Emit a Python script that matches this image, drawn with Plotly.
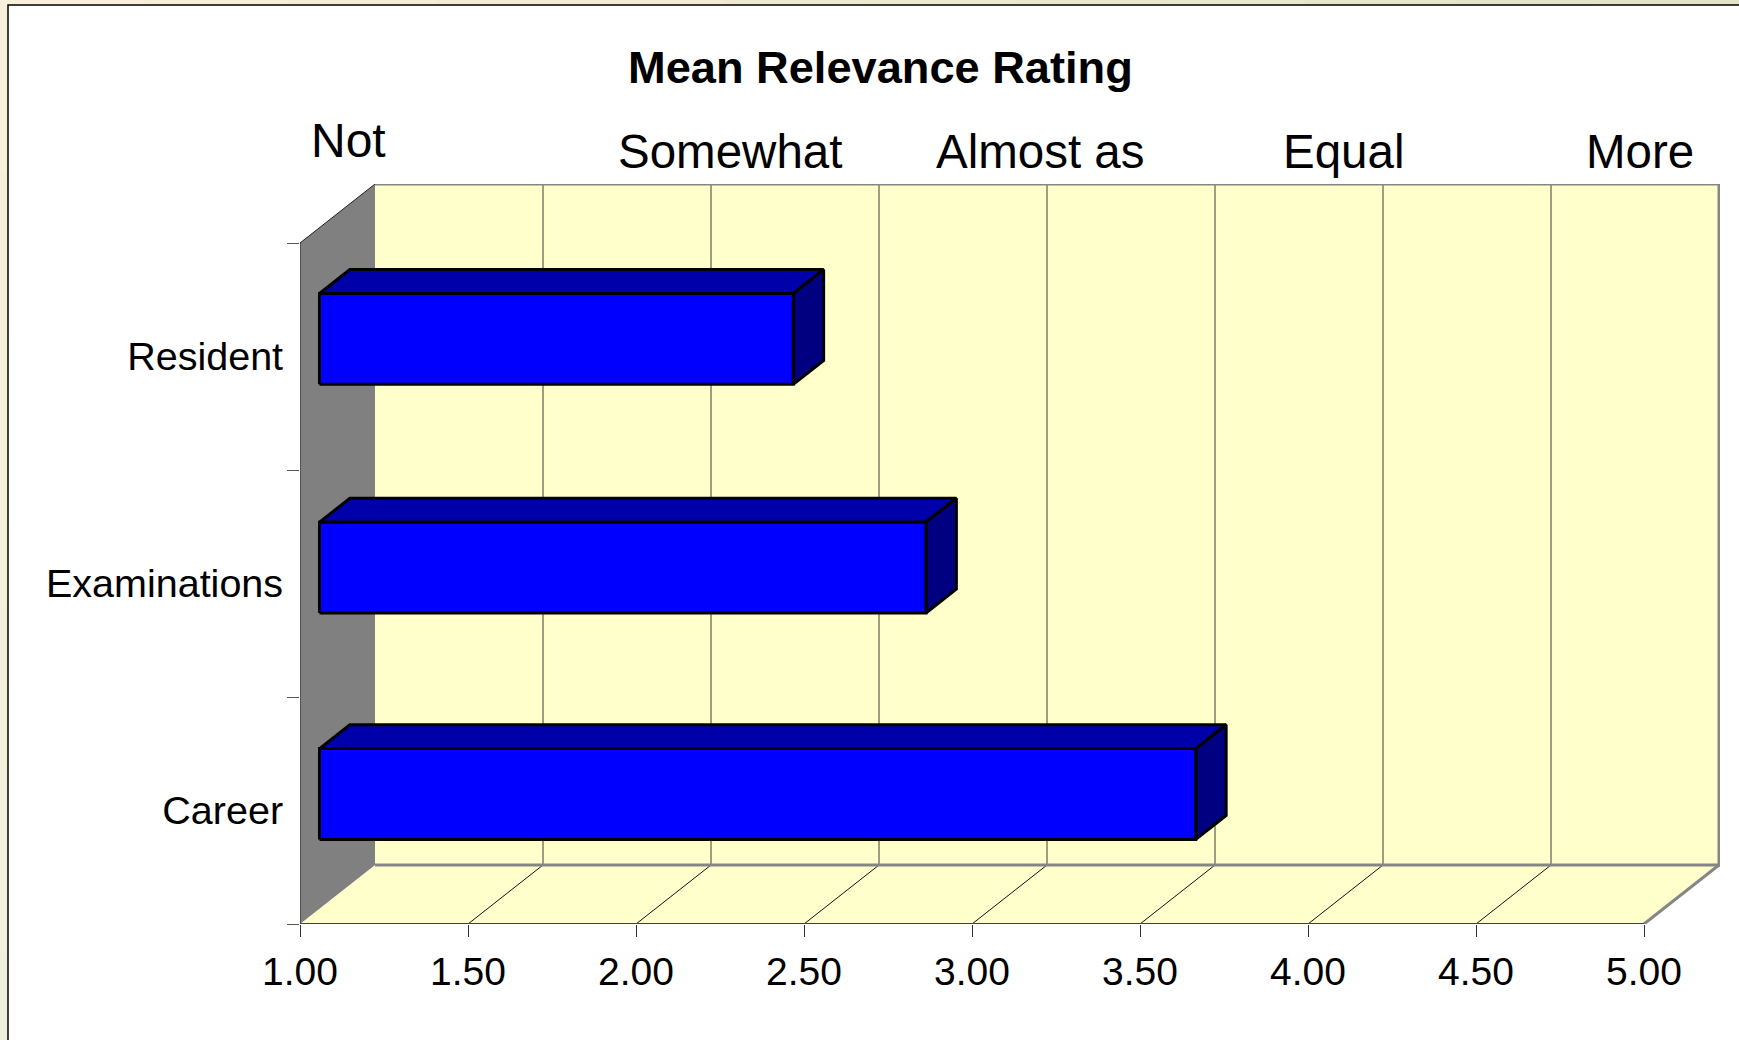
import plotly.graph_objects as go

categories = ["Career", "Examinations", "Resident"]
mean_rating = [3.608, 2.805, 2.41]
x_ticks = [1.0, 1.5, 2.0, 2.5, 3.0, 3.5, 4.0, 4.5, 5.0]
scale_labels = ["Not", "Somewhat", "Almost as", "Equal", "More"]
title_text = "Mean Relevance Rating"

W, H = 1739, 1040
PX_X = 336.0   # px per rating unit
PX_Y = 227.0   # px per category unit
LEFT, RIGHT, BOTTOM, TOP = 300, 1720, 924, 184
X_MIN = 1.0
X_MAX = X_MIN + (RIGHT - LEFT) / PX_X
Y_MAX = (BOTTOM - TOP) / PX_Y
DX = 75 / PX_X  # full oblique depth in axis units
DY = 59 / PX_Y
N = len(categories)
XFMT = "%.2f"


def proj(value, pos, depth):
    return value + depth * DX, pos + depth * DY


def fx(px):
    return px / W


def fy(py):
    return 1 - py / H


fig = go.Figure()


def poly(points, fill=None, line=None, width=1):
    xs, ys = zip(*points)
    fig.add_trace(go.Scatter(
        x=list(xs), y=list(ys), mode="lines", showlegend=False, hoverinfo="skip",
        fill="toself" if fill else None, fillcolor=fill, cliponaxis=False,
        line=dict(color=line or "rgba(0,0,0,0)", width=width, simplify=False),
    ))


WALL = "#FFFFCC"
FRAME = "#868686"
# back wall, floor and side wall
poly([proj(1, 0, 1), proj(1, N, 1), proj(5, N, 1), proj(5, 0, 1), proj(1, 0, 1)], fill=WALL)
poly([proj(1, 0, 0), proj(5, 0, 0), proj(5, 0, 1), proj(1, 0, 1), proj(1, 0, 0)], fill=WALL)
poly([proj(1, 0, 0), proj(1, N, 0), proj(1, N, 1), proj(1, 0, 1), proj(1, 0, 0)], fill="#808080")
# gridlines
for t in x_ticks[1:-1]:
    poly([proj(t, 0, 1), proj(t, N, 1)], line="#3C3C34", width=1)
    poly([proj(t, 0, 0), proj(t, 0, 1)], line="#111111", width=1)
# frame
poly([proj(1, N, 1), proj(5, N, 1), proj(5, 0, 1), proj(1, 0, 1)], line=FRAME, width=3)
poly([proj(5, 0, 0), proj(5, 0, 1)], line=FRAME, width=3)
poly([proj(1, 0, 0), proj(1, N, 0), proj(1, N, 1)], line="#222222", width=1)
poly([proj(1, 0, 0), proj(5, 0, 0)], line="#404040", width=2)

# bars
D0, D1 = 0.26, 0.665
BAR_H = 0.4
BAR_CENTRE = [0.505, 1.5025, 2.51]
for c, v in zip(BAR_CENTRE, mean_rating):
    lo, hi = c - BAR_H / 2, c + BAR_H / 2
    poly([proj(1, hi, D0), proj(v, hi, D0), proj(v, hi, D1), proj(1, hi, D1), proj(1, hi, D0)],
         fill="#0000AA", line="black", width=3)
    poly([proj(v, lo, D0), proj(v, hi, D0), proj(v, hi, D1), proj(v, lo, D1), proj(v, lo, D0)],
         fill="#000080", line="black", width=3)
    poly([proj(1, lo, D0), proj(v, lo, D0), proj(v, hi, D0), proj(1, hi, D0), proj(1, lo, D0)],
         fill="#0000FF", line="black", width=3)

FONT = "Liberation Sans"
shapes = []
# cream surround drawn as short steps from warm (top-left) to olive (right / bottom)
c0, c1, c2 = (248, 240, 218), (227, 227, 197), (239, 240, 220)
STEPS = 12
for k in range(STEPS):
    t = k / (STEPS - 1)
    col = "rgb(%d,%d,%d)" % tuple(round(a + (b - a) * t) for a, b in zip(c0, c1))
    shapes.append(dict(type="rect", xref="paper", yref="paper", layer="below",
                       x0=k / STEPS, x1=(k + 1) / STEPS, y0=0.99, y1=1, fillcolor=col, line_width=0))
    col = "rgb(%d,%d,%d)" % tuple(round(a + (b - a) * t) for a, b in zip(c0, c2))
    shapes.append(dict(type="rect", xref="paper", yref="paper", layer="below",
                       x0=0, x1=0.006, y0=1 - (k + 1) / STEPS, y1=1 - k / STEPS, fillcolor=col, line_width=0))
shapes.append(dict(type="rect", xref="paper", yref="paper", layer="below",
                   x0=fx(8), x1=fx(W + 10), y0=fy(H + 10), y1=fy(5),
                   fillcolor="white", line=dict(color="black", width=1.5)))

annotations = [dict(text="<b>%s</b>" % title_text, x=fx(880), y=fy(68), xref="paper", yref="paper", showarrow=False,
                    xanchor="center", yanchor="middle", font=dict(family=FONT, size=45.2, color="black"))]
label_pos = [(348, 141), (730, 151), (1040, 151), (1344, 151), (1640, 151)]
label_size = [48, 47.5, 47.5, 47.5, 47.5]
for s, (px, py), sz in zip(scale_labels, label_pos, label_size):
    annotations.append(dict(text=s, x=fx(px), y=fy(py), xref="paper", yref="paper", showarrow=False,
                            xanchor="center", yanchor="middle", font=dict(family=FONT, size=sz, color="black")))

fig.update_layout(
    width=W, height=H, margin=dict(l=0, r=0, t=0, b=0, pad=0, autoexpand=False),
    paper_bgcolor="#F6EFD8", plot_bgcolor="rgba(0,0,0,0)", showlegend=False,
    shapes=shapes, annotations=annotations, hovermode=False,
    font=dict(family=FONT, color="black"),
    xaxis=dict(domain=[LEFT / W, RIGHT / W], range=[X_MIN, X_MAX], showgrid=False, zeroline=False,
               showline=False, tickmode="array", tickvals=x_ticks, ticktext=[XFMT % t for t in x_ticks],
               ticks="outside", ticklen=12, tickwidth=1, tickcolor="#333333", ticklabelstandoff=1,
               tickfont=dict(family=FONT, size=39, color="black"), automargin=False),
    yaxis=dict(domain=[1 - BOTTOM / H, 1 - TOP / H], range=[0, Y_MAX], showgrid=False, zeroline=False,
               showline=False, tickmode="array", tickvals=[i + 0.5 for i in range(N)], ticktext=categories,
               ticks="outside", ticklen=8, tickcolor="rgba(0,0,0,0)",
               tickfont=dict(family=FONT, size=39.5, color="black"), automargin=False,
               minor=dict(tickmode="array", tickvals=list(range(N + 1)), ticks="outside", ticklen=12,
                          tickwidth=1, tickcolor="#555555", showgrid=False)),
)
fig.write_html("out.html", config={"displayModeBar": False},
               post_script="document.body.style.margin='0';document.documentElement.style.overflow='hidden';")
